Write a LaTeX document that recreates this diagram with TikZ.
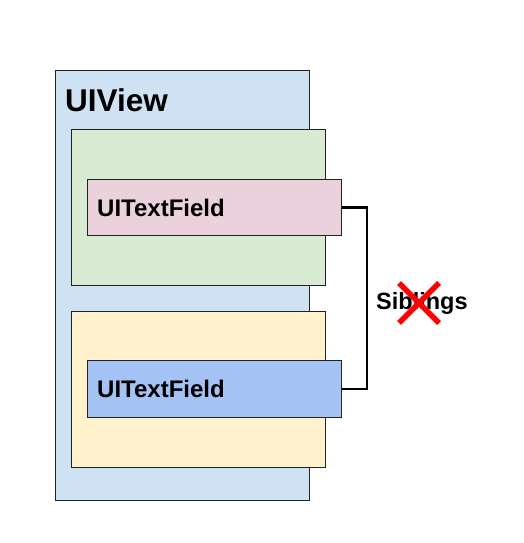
\documentclass[tikz,border=0pt]{standalone}
\usepackage{fontspec}
\setmainfont{Liberation Sans}
\definecolor{viewblue}{HTML}{CFE2F3}
\definecolor{cgreen}{HTML}{D9EAD3}
\definecolor{cyellow}{HTML}{FFF2CC}
\definecolor{cpink}{HTML}{EAD1DC}
\definecolor{cblue}{HTML}{A4C2F4}
\definecolor{edge}{HTML}{222222}
\tikzset{
  box/.style={draw=edge, line width=0.9pt, anchor=north west, inner sep=0pt},
  lbl/.style={anchor=base west, inner sep=0pt, font=\bfseries\fontsize{23.5}{28}\selectfont},
  link/.style={line width=2.4pt, black},
  cross/.style={line width=5.5pt, red},
}
\begin{document}
\begin{tikzpicture}[x=1pt,y=1pt]
\useasboundingbox (0,0) rectangle (524,-543);
\node[box, fill=viewblue, minimum width=254pt, minimum height=430pt] (view) at (55,-70) {};
\node[lbl, font=\bfseries\fontsize{31.5}{36}\selectfont] (viewlbl) at (65,-111) {UIView};
\node[box, fill=cgreen, minimum width=254pt, minimum height=156pt] (green) at (71,-129) {};
\node[box, fill=cyellow, minimum width=254pt, minimum height=156pt] (yellow) at (71,-311) {};
\node[box, fill=cpink, minimum width=254pt, minimum height=56pt] (tf1) at (87,-179) {};
\node[box, fill=cblue, minimum width=254pt, minimum height=57pt] (tf2) at (87,-360) {};
\node[lbl, font=\bfseries\fontsize{24}{28}\selectfont] (tf1lbl) at (97,-216) {UITextField};
\node[lbl, font=\bfseries\fontsize{24}{28}\selectfont] (tf2lbl) at (97,-397) {UITextField};
\draw[link] (tf1.east) -- ++(25,0) coordinate (turn) |- (tf2.east);
\node[lbl] (sib) at (376,-309) {Siblings};
\coordinate (xa) at (399,-283);
\coordinate (xb) at (439,-323);
\coordinate (xc) at (399,-323);
\coordinate (xd) at (439,-283);
\draw[cross] (xa) -- (xb);
\draw[cross] (xc) -- (xd);
\end{tikzpicture}
\end{document}
